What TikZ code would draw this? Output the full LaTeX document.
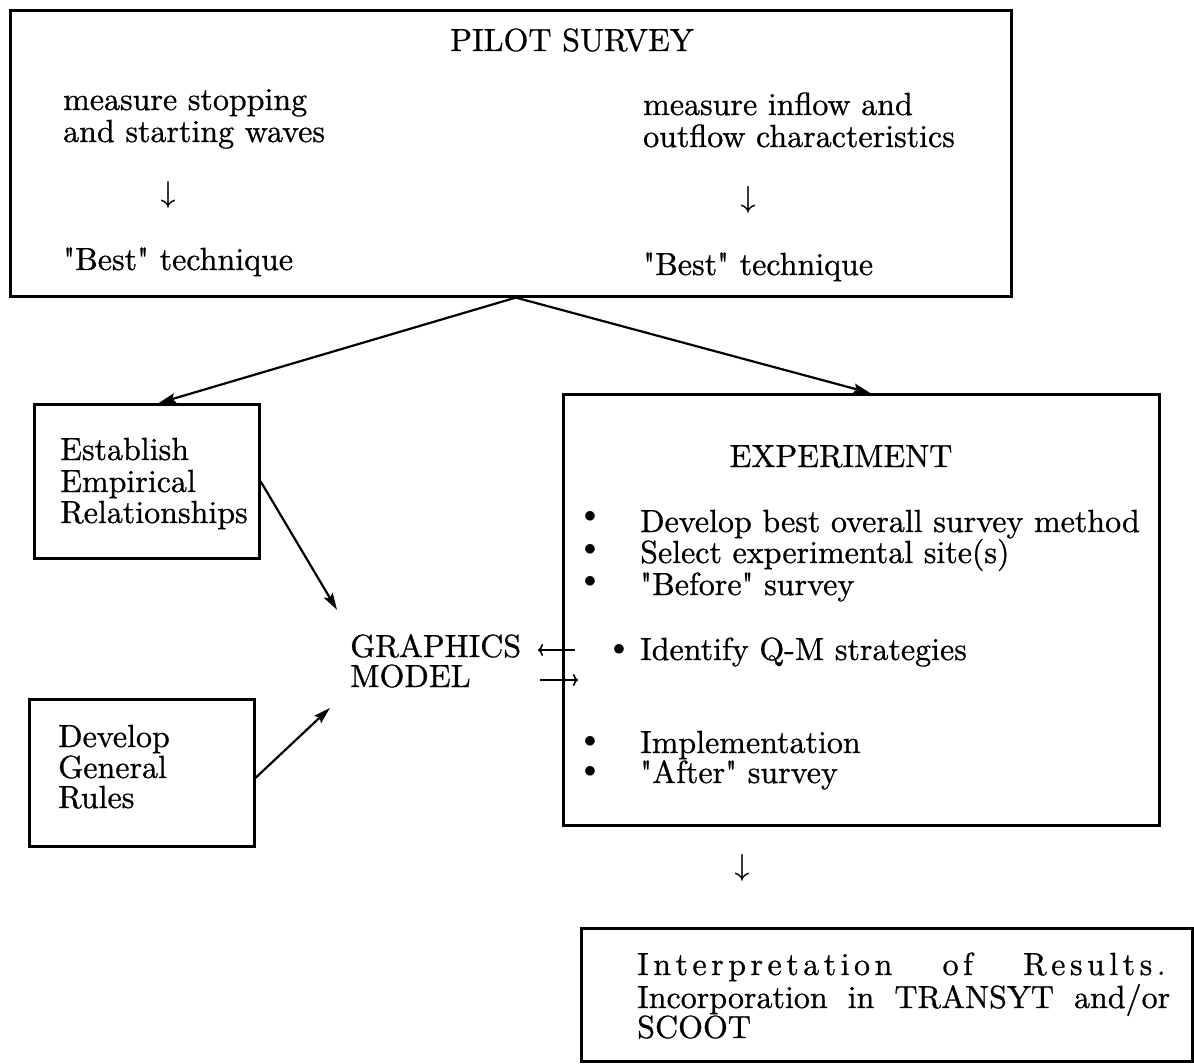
\documentclass[tikz,border=0pt]{standalone}
\usepackage{fontspec}
\newfontfamily\lmraw{lmroman10-regular.otf}[FakeBold=0.8]
\usetikzlibrary{arrows.meta}
\def\lspword#1{\lspA#1\relax}
\def\lspA#1{\ifx\relax#1\else#1\kern4.5pt\relax\expandafter\lspA\fi}
\begin{document}
\begin{tikzpicture}[x=1pt,y=-1pt,
  box/.style={draw, line width=2.6pt, inner sep=0pt, anchor=north west},
  txt/.style={anchor=base west, inner sep=0pt, font=\lmraw\fontsize{32}{34}\selectfont},
  ctxt/.style={txt, anchor=base},
  glyph/.style={anchor=base, inner sep=0pt, font=\lmraw\fontsize{30}{32}\selectfont},
  bul/.style={anchor=center, inner sep=0pt, font=\fontsize{32}{34}\selectfont},
  conn/.style={line width=2.2pt, -{Stealth[length=17pt,width=10pt,inset=3pt]}},
  small/.style={line width=1.6pt, -{To[length=5pt,width=12pt]}}]
\fill[white] (0,0) rectangle (1194,1064);
\path[use as bounding box] (0,0) rectangle (1194,1064);

% boxes
\node[box, minimum width=1001pt, minimum height=286pt] (pilot) at (9,9) {};
\node[box, minimum width=225pt, minimum height=154pt] (estab) at (33,403) {};
\node[box, minimum width=225pt, minimum height=147pt] (dev) at (28,698) {};
\node[box, minimum width=596pt, minimum height=431pt] (exp) at (562,393) {};
\node[box, minimum width=611pt, minimum height=133pt] (res) at (580,927) {};

% pilot survey contents
\node[ctxt] (ptitle) at (572,51) {PILOT SURVEY};
\node[txt] (l1) at (63,110) {measure stopping};
\node[txt] (l2) at (63,142) {and starting waves};
\node[glyph] (la) at (168,202) {↓};
\node[txt] (l3) at (63,270) {"Best" technique};
\node[txt] (r1) at (643,115) {measure inflow and};
\node[txt] (r2) at (643,147) {outflow characteristics};
\node[glyph] (ra) at (748,207) {↓};
\node[txt] (r3) at (643,275) {"Best" technique};

% left boxes
\node[txt] (e1) at (60,460) {Establish};
\node[txt] (e2) at (60,492) {Empirical};
\node[txt] (e3) at (60,523) {Relationships};
\node[txt] (d1) at (58,747) {Develop};
\node[txt] (d2) at (58,778) {General};
\node[txt] (d3) at (58,808) {Rules};

% graphics model
\node[txt] (gm1) at (350,657) {GRAPHICS};
\node[txt] (gm2) at (350,687) {MODEL};

% experiment
\node[ctxt] (etitle) at (841,467) {EXPERIMENT};
\node[bul] (b1) at (590,517) {$\bullet$};
\node[bul] (b2) at (590,550) {$\bullet$};
\node[bul] (b3) at (590,582) {$\bullet$};
\node[bul] (b4) at (619,650) {$\bullet$};
\node[bul] (b5) at (590,742) {$\bullet$};
\node[bul] (b6) at (590,772) {$\bullet$};
\node[txt] (x1) at (640,532) {Develop best overall survey method};
\node[txt] (x2) at (640,563) {Select experimental site(s)};
\node[txt] (x3) at (640,595) {"Before" survey};
\node[txt] (x4) at (640,660) {Identify Q-M strategies};
\node[txt] (x5) at (640,753) {Implementation};
\node[txt] (x6) at (640,783) {"After" survey};
\node[glyph] (ea) at (742,875) {↓};

% results
\node[txt] (s1) at (637,975) {\makebox[533pt][s]{\lspword{Interpretation} \lspword{of} \lspword{Results.}}};
\node[txt] (s2) at (637,1008) {\makebox[533pt][s]{Incorporation in TRANSYT and/or}};
\node[txt] (s3) at (637,1038) {SCOOT};

% connectors
\coordinate (gin1) at ([shift={(-13,-24)}]gm1.north west);
\coordinate (gin2) at ([shift={(-20,20)}]gm2.south west);
\draw[conn] ([xshift=5pt]pilot.south) -- ([xshift=12pt]estab.north);
\draw[conn] ([xshift=5pt]pilot.south) -- ([xshift=9pt]exp.north);
\draw[conn] (estab.east) -- (gin1);
\draw[conn] ([yshift=-5pt]dev.east) -- (gin2);

\coordinate (lt1) at (575,650);
\coordinate (lt2) at (538,650);
\coordinate (rt1) at (540,680);
\coordinate (rt2) at (578,680);
\draw[small] (lt1) -- (lt2);
\draw[small] (rt1) -- (rt2);
\end{tikzpicture}
\end{document}
